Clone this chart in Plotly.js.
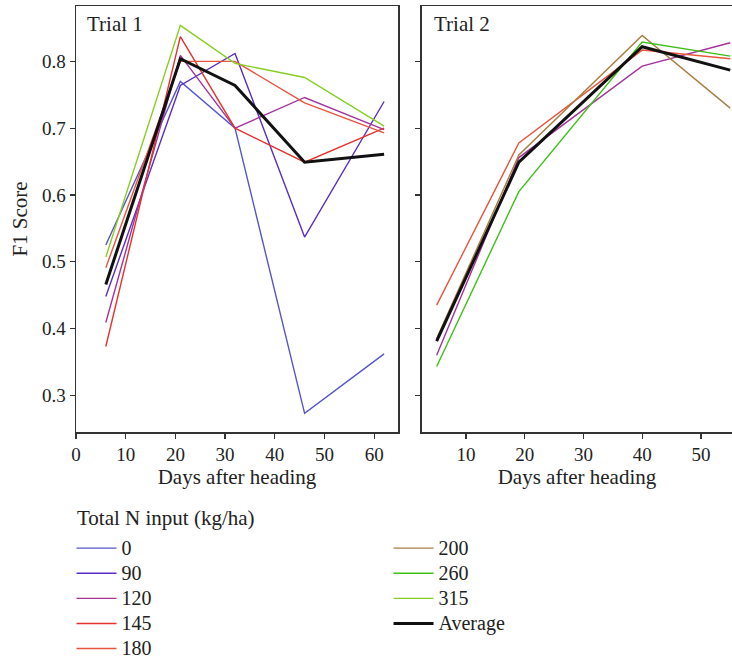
<!DOCTYPE html>
<html><head><meta charset="utf-8">
<script src="https://cdn.plot.ly/plotly-3.0.1.min.js"></script>
<style>body{margin:0;background:#fff}</style>
</head><body><div id="chart" style="width:732px;height:661px"></div>
<script>
// Trial 1
var days1 = [6, 21, 32, 46, 62];
var t1_n0   = [0.525, 0.770, 0.700, 0.273, 0.362];
var t1_n90  = [0.448, 0.764, 0.812, 0.537, 0.740];
var t1_n120 = [0.409, 0.809, 0.700, 0.746, 0.698];
var t1_n145 = [0.373, 0.837, 0.700, 0.649, 0.700];
var t1_n180 = [0.491, 0.800, 0.800, 0.738, 0.693];
var t1_n315 = [0.507, 0.854, 0.797, 0.776, 0.703];
var t1_avg  = [0.466, 0.804, 0.764, 0.649, 0.661];
// Trial 2
var days2 = [5, 19, 40, 55];
var t2_n120 = [0.360, 0.656, 0.793, 0.828];
var t2_n180 = [0.435, 0.678, 0.817, 0.804];
var t2_n200 = [0.385, 0.660, 0.839, 0.730];
var t2_n260 = [0.343, 0.605, 0.829, 0.808];
var t2_avg  = [0.381, 0.649, 0.822, 0.787];

var legendNames = ['0', '90', '120', '145', '180', '200', '260', '315', 'Average'];
var legendTitle = 'Total N input (kg/ha)';
var colors = {
  '0': '#5656c9', '90': '#5a2fbf', '120': '#a3339c', '145': '#e2332e',
  '180': '#e8553f', '200': '#a87d40', '260': '#3fbf18', '315': '#86cf22', 'Average': '#111111'
};
var FONT = 'Liberation Serif, DejaVu Serif, serif';

function tr(name, x, y, xa, ya, show) {
  var idx = legendNames.indexOf(name);
  return {
    type: 'scatter', mode: 'lines',
    name: '<span style="font-size:20px">' + name + '</span>',
    x: x, y: y,
    xaxis: xa, yaxis: ya, legendgroup: name, showlegend: show,
    legend: idx < 5 ? 'legend' : 'legend2', legendrank: idx + 1,
    line: {color: colors[name], width: name === 'Average' ? 3 : 1.4}
  };
}

var data = [
  tr('0', days1, t1_n0, 'x', 'y', true),
  tr('90', days1, t1_n90, 'x', 'y', true),
  tr('120', days1, t1_n120, 'x', 'y', true),
  tr('145', days1, t1_n145, 'x', 'y', true),
  tr('180', days1, t1_n180, 'x', 'y', true),
  tr('315', days1, t1_n315, 'x', 'y', true),
  tr('Average', days1, t1_avg, 'x', 'y', true),
  tr('120', days2, t2_n120, 'x2', 'y2', false),
  tr('180', days2, t2_n180, 'x2', 'y2', false),
  tr('200', days2, t2_n200, 'x2', 'y2', true),
  tr('260', days2, t2_n260, 'x2', 'y2', true),
  tr('Average', days2, t2_avg, 'x2', 'y2', false)
];

var axBase = {
  showline: true, mirror: true, linecolor: '#333', linewidth: 1.5,
  ticks: 'outside', ticklen: 5, tickwidth: 1.3, tickcolor: '#333',
  showgrid: false, zeroline: false,
  tickfont: {family: FONT, size: 19, color: '#222'}
};
function ax(extra) { return Object.assign({}, axBase, extra); }
var titleFont = {family: FONT, size: 21, color: '#222'};
var legFont = {family: FONT, size: 17, color: '#222'};
var legTop = 1 - 530.6 / 661;

var layout = {
  width: 732, height: 661,
  margin: {l: 76, r: 0, t: 6, b: 229},
  paper_bgcolor: '#fff', plot_bgcolor: '#fff',
  font: {family: FONT, size: 18, color: '#222'},
  xaxis: ax({domain: [0, 0.4909], range: [0, 64.8], tick0: 0, dtick: 10,
    title: {text: 'Days after heading', font: titleFont, standoff: 3}}),
  yaxis: ax({domain: [0, 1], range: [0.245, 0.883], tick0: 0, dtick: 0.1, tickformat: '.1f',
    title: {text: 'F1 Score', font: titleFont, standoff: 8}}),
  xaxis2: ax({domain: [0.5274, 1], range: [2.5, 55.3], tick0: 0, dtick: 10, anchor: 'y2',
    title: {text: 'Days after heading', font: titleFont, standoff: 3}}),
  yaxis2: ax({domain: [0, 1], range: [0.245, 0.883], tick0: 0, dtick: 0.1, anchor: 'x2', showticklabels: false}),
  showlegend: true,
  legend: {
    x: -0.00686, xref: 'paper', xanchor: 'left',
    y: legTop, yref: 'container', yanchor: 'top',
    orientation: 'v', traceorder: 'normal', itemwidth: 40,
    font: legFont, bgcolor: 'rgba(0,0,0,0)'
  },
  legend2: {
    x: 0.4764, xref: 'paper', xanchor: 'left',
    y: legTop, yref: 'container', yanchor: 'top',
    orientation: 'v', traceorder: 'normal', itemwidth: 40,
    font: legFont, bgcolor: 'rgba(0,0,0,0)'
  },
  annotations: [
    {text: 'Trial 1', xref: 'x domain', yref: 'y domain', x: 0.028, y: 0.958,
     xanchor: 'left', yanchor: 'middle', showarrow: false, font: titleFont},
    {text: 'Trial 2', xref: 'x2 domain', yref: 'y2 domain', x: 0.032, y: 0.958,
     xanchor: 'left', yanchor: 'middle', showarrow: false, font: titleFont},
    {text: legendTitle, xref: 'paper', yref: 'paper', x: -1 / 656, y: (432 - 518) / 426,
     xanchor: 'left', yanchor: 'middle', showarrow: false, font: titleFont}
  ]
};

Plotly.newPlot('chart', data, layout, {displayModeBar: false, staticPlot: true});
</script></body></html>
